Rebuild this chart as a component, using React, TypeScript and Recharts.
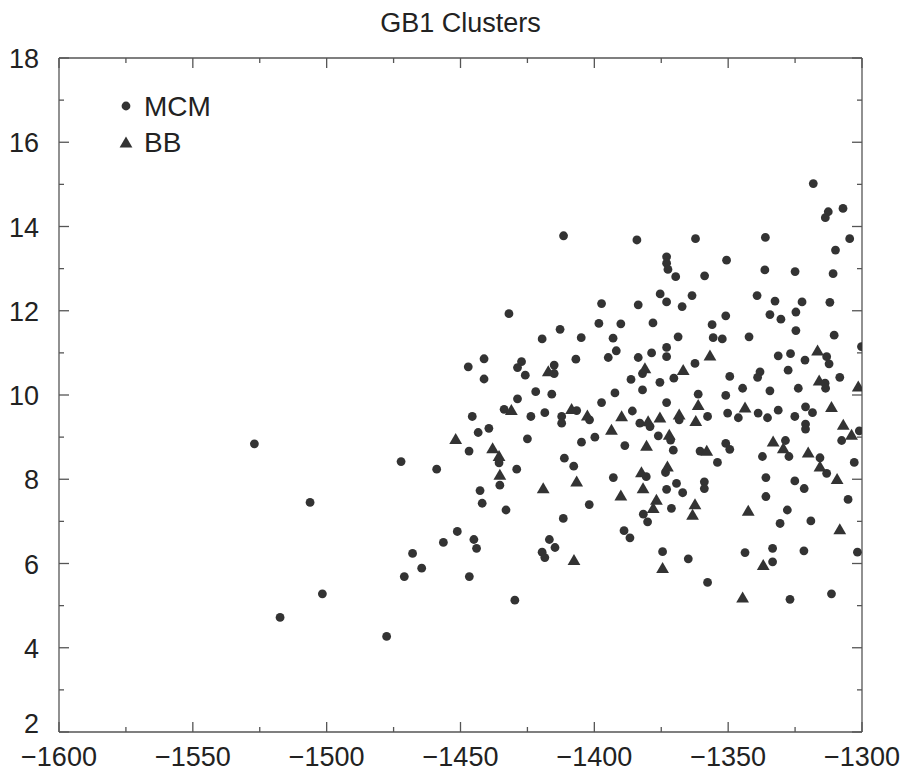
import React from 'react';
import { ScatterChart, Scatter, XAxis, YAxis, Legend } from 'recharts';

const chartTitle = 'GB1 Clusters';
const seriesNames = ['MCM', 'BB'];

// MCM cluster points: [x, y]
const mcmPoints: [number, number][] = [
  [-1411.5, 13.78], [-1384.1, 13.68], [-1373, 13.28], [-1373, 13.13], [-1372.5, 12.98],
  [-1375.4, 12.4], [-1373, 12.21], [-1397.3, 12.17], [-1383.6, 12.14], [-1431.9, 11.93],
  [-1398.3, 11.7], [-1390.1, 11.69], [-1378.1, 11.71], [-1412.8, 11.56], [-1419.5, 11.33],
  [-1404.9, 11.36], [-1393.0, 11.35],
  [-1318.2, 15.02], [-1312.6, 14.35], [-1313.7, 14.21], [-1307.1, 14.43], [-1304.6, 13.71],
  [-1309.9, 13.44], [-1362.2, 13.71], [-1336.1, 13.74], [-1350.6, 13.2], [-1369.6, 12.81],
  [-1358.8, 12.83], [-1336.3, 12.97], [-1325.0, 12.93], [-1310.8, 12.88], [-1363.5, 12.36],
  [-1367.2, 12.1], [-1339.2, 12.36], [-1332.5, 12.23], [-1322.4, 12.21], [-1312.0, 12.2],
  [-1350.9, 11.88], [-1334.4, 11.91], [-1330.3, 11.8], [-1324.7, 11.97], [-1356.0, 11.67],
  [-1324.7, 11.53], [-1368.7, 11.38], [-1355.6, 11.36], [-1352.2, 11.33], [-1342.2, 11.38],
  [-1310.4, 11.42],
  [-1391.8, 11.05], [-1394.8, 10.89], [-1447.1, 10.67], [-1441.2, 10.86], [-1441.2, 10.38],
  [-1427.2, 10.79], [-1428.7, 10.65], [-1425.8, 10.47], [-1415.0, 10.71], [-1415.0, 10.51],
  [-1406.9, 10.85], [-1383.6, 10.89], [-1378.6, 11.0], [-1373.0, 11.13], [-1373.0, 10.91],
  [-1382.0, 10.51], [-1386.3, 10.37], [-1375.5, 10.3], [-1421.9, 10.08], [-1415.9, 10.02],
  [-1392.3, 10.05], [-1382.0, 10.12], [-1428.7, 9.91], [-1397.3, 9.82], [-1373.0, 9.82],
  [-1433.7, 9.66], [-1445.6, 9.49], [-1423.7, 9.49], [-1418.5, 9.58], [-1406.6, 9.63],
  [-1412.2, 9.49], [-1412.2, 9.33], [-1401.8, 9.41], [-1385.8, 9.62], [-1383.0, 9.33],
  [-1379.2, 9.25], [-1376.1, 9.03], [-1443.4, 9.11], [-1439.4, 9.21], [-1446.8, 8.67],
  [-1425.0, 8.96], [-1399.8, 9.0], [-1404.8, 8.88], [-1388.6, 8.8], [-1435.6, 8.39],
  [-1458.9, 8.24], [-1429.0, 8.24], [-1411.2, 8.5], [-1407.7, 8.31], [-1435.3, 7.86],
  [-1392.9, 8.04], [-1380.6, 8.06], [-1373.4, 8.16], [-1442.7, 7.73], [-1441.9, 7.43],
  [-1433.0, 7.27], [-1401.9, 7.4], [-1373.0, 7.76], [-1381.7, 7.17], [-1411.6, 7.07],
  [-1300.2, 11.15], [-1362.4, 10.75], [-1370.3, 10.4], [-1331.3, 10.93], [-1326.7, 10.98],
  [-1321.3, 10.83], [-1313.2, 10.91], [-1312.3, 10.74], [-1327.6, 10.59], [-1338.1, 10.55],
  [-1339.0, 10.42], [-1349.4, 10.44], [-1313.8, 10.28], [-1313.6, 10.16], [-1308.3, 10.42],
  [-1344.6, 10.16], [-1334.4, 10.1], [-1323.8, 10.16], [-1350.9, 9.99], [-1361.2, 10.02],
  [-1321.1, 9.72], [-1318.5, 9.58], [-1331.3, 9.64], [-1368.3, 9.41], [-1357.7, 9.49],
  [-1350.2, 9.57], [-1346.2, 9.46], [-1338.8, 9.57], [-1335.3, 9.46], [-1325.1, 9.49],
  [-1321.1, 9.31], [-1321.1, 9.19], [-1301.0, 9.15], [-1307.6, 8.92], [-1371.5, 8.93],
  [-1370.5, 8.69], [-1360.5, 8.67], [-1350.9, 8.85], [-1349.4, 8.71], [-1354.0, 8.4],
  [-1328.6, 8.92], [-1327.3, 8.54], [-1337.2, 8.54], [-1315.7, 8.51], [-1313.2, 8.14],
  [-1302.9, 8.4], [-1335.9, 8.04], [-1325.1, 7.96], [-1321.6, 7.78], [-1335.9, 7.59],
  [-1305.2, 7.52], [-1369.3, 7.9], [-1367.0, 7.68], [-1358.9, 7.94], [-1358.9, 7.78],
  [-1371.2, 7.31], [-1327.9, 7.27],
  [-1330.6, 6.95], [-1319.1, 7.01], [-1374.5, 6.28], [-1364.9, 6.11], [-1343.7, 6.26],
  [-1333.4, 6.36], [-1333.4, 6.04], [-1321.7, 6.3], [-1301.7, 6.27], [-1357.7, 5.55],
  [-1326.9, 5.15], [-1311.4, 5.28],
  [-1380.1, 6.99], [-1451.2, 6.76], [-1456.4, 6.5], [-1445.0, 6.57], [-1444.0, 6.36],
  [-1464.5, 5.89], [-1446.7, 5.69], [-1429.7, 5.13], [-1416.8, 6.57], [-1414.7, 6.38],
  [-1419.5, 6.27], [-1418.5, 6.14], [-1388.9, 6.78], [-1386.7, 6.61],
  [-1527.0, 8.84], [-1472.2, 8.42], [-1506.2, 7.45], [-1467.9, 6.24], [-1471.0, 5.69],
  [-1501.6, 5.28], [-1517.4, 4.72], [-1477.6, 4.27],
];

// BB cluster points: [x, y]
const bbPoints: [number, number][] = [
  [-1417.2, 10.56], [-1431.0, 9.64], [-1408.5, 9.66], [-1402.6, 9.51], [-1389.8, 9.49],
  [-1393.6, 9.17], [-1375.5, 9.46], [-1379.9, 9.37], [-1380.5, 8.79], [-1451.8, 8.95],
  [-1438.0, 8.73], [-1435.6, 8.55], [-1435.3, 8.1], [-1406.6, 7.94], [-1382.4, 8.16],
  [-1372.7, 8.3], [-1381.8, 7.78], [-1419.1, 7.78], [-1390.1, 7.61], [-1376.8, 7.51],
  [-1378.0, 7.31], [-1381.1, 10.63], [-1407.6, 6.08], [-1356.8, 10.93], [-1366.8, 10.59],
  [-1316.6, 11.05], [-1316.0, 10.34], [-1301.4, 10.2], [-1361.2, 9.76], [-1343.7, 9.7],
  [-1311.4, 9.71], [-1368.3, 9.53], [-1362.1, 9.38], [-1307.0, 9.29], [-1303.9, 9.05],
  [-1372.0, 9.05], [-1358.0, 8.67], [-1333.2, 8.89], [-1329.4, 8.73], [-1320.1, 8.63],
  [-1315.7, 8.3], [-1309.3, 8.0], [-1362.4, 7.4], [-1363.3, 7.15], [-1342.5, 7.25],
  [-1308.3, 6.81], [-1336.9, 5.96], [-1374.5, 5.89], [-1344.6, 5.19],
];

const xMajorTicks = [-1600, -1550, -1500, -1450, -1400, -1350, -1300];
const xMinorTicks = [-1575, -1525, -1475, -1425, -1375, -1325];
const yMajorTicks = [2, 4, 6, 8, 10, 12, 14, 16, 18];
const yMinorTicks = [3, 5, 7, 9, 11, 13, 15, 17];
const xDomain = [-1600, -1300];
const yDomain = [2, 18];

const mcmData = mcmPoints.map(([x, y]) => ({ x, y }));
const bbData = bbPoints.map(([x, y]) => ({ x, y }));
const xAllTicks = [...xMajorTicks, ...xMinorTicks].sort((a, b) => a - b);
const yAllTicks = [...yMajorTicks, ...yMinorTicks].sort((a, b) => a - b);

const FONT = '"Liberation Sans", Arial, Helvetica, sans-serif';
const TEXT = '#222';
const AXIS = '#555';
const MARK = '#333';
const TICK_FS = 27;
const MAJOR_LEN = 10;
const MINOR_LEN = 5;

const fmt = (v: number) => (v < 0 ? '\u2212' + Math.abs(v) : String(v));

const XBottomTick = (props: any) => {
  const { x, y, payload } = props;
  const major = xMajorTicks.includes(payload.value);
  return (
    <g>
      <line x1={x} x2={x} y1={y} y2={y - (major ? MAJOR_LEN : MINOR_LEN)} stroke={AXIS} strokeWidth={1.3} />
      {major && (
        <text x={x} y={y + 34} textAnchor="middle" fontFamily={FONT} fontSize={TICK_FS} fill={TEXT}>
          {fmt(payload.value)}
        </text>
      )}
    </g>
  );
};

const XTopTick = (props: any) => {
  const { x, y, payload } = props;
  const major = xMajorTicks.includes(payload.value);
  return <line x1={x} x2={x} y1={y} y2={y + (major ? MAJOR_LEN : MINOR_LEN)} stroke={AXIS} strokeWidth={1.3} />;
};

const YLeftTick = (props: any) => {
  const { x, y, payload } = props;
  const major = yMajorTicks.includes(payload.value);
  // lowest label sits slightly raised so it clears the x-axis labels (as in the reference)
  const lift = payload.value === yDomain[0] ? -9 : 0;
  return (
    <g>
      <line x1={x} x2={x + (major ? MAJOR_LEN : MINOR_LEN)} y1={y} y2={y} stroke={AXIS} strokeWidth={1.3} />
      {major && (
        <text x={x - 20} y={y + 10 + lift} textAnchor="end" fontFamily={FONT} fontSize={TICK_FS} fill={TEXT}>
          {fmt(payload.value)}
        </text>
      )}
    </g>
  );
};

const YRightTick = (props: any) => {
  const { x, y, payload } = props;
  const major = yMajorTicks.includes(payload.value);
  return <line x1={x} x2={x - (major ? MAJOR_LEN : MINOR_LEN)} y1={y} y2={y} stroke={AXIS} strokeWidth={1.3} />;
};

const CircleShape = (props: any) => {
  const { cx, cy } = props;
  return <circle cx={cx} cy={cy} r={4.4} fill={MARK} />;
};

const TriangleShape = (props: any) => {
  const { cx, cy } = props;
  return <polygon points={`${cx},${cy - 6.2} ${cx + 6.4},${cy + 4.8} ${cx - 6.4},${cy + 4.8}`} fill={MARK} />;
};

const NoShape = () => <g />;

const LegendContent = () => (
  <svg width={120} height={72} style={{ display: 'block' }}>
    <circle cx={16} cy={16} r={4.4} fill={MARK} />
    <text x={34} y={26} fontFamily={FONT} fontSize={28} fill={TEXT}>{seriesNames[0]}</text>
    <polygon points={`16,${52.7 - 6.2} ${16 + 6.4},${52.7 + 4.8} ${16 - 6.4},${52.7 + 4.8}`} fill={MARK} />
    <text x={34} y={62} fontFamily={FONT} fontSize={28} fill={TEXT}>{seriesNames[1]}</text>
  </svg>
);

export default function App() {
  return (
    <div style={{ position: 'absolute', left: 0, top: 0, width: 905, height: 771, background: '#fff' }}>
      <div
        style={{
          position: 'absolute',
          left: 59,
          width: 803,
          top: 10,
          textAlign: 'center',
          fontFamily: FONT,
          fontSize: 27,
          lineHeight: '27px',
          color: TEXT,
          zIndex: 2,
        }}
      >
        {chartTitle}
      </div>
      <ScatterChart width={905} height={771} margin={{ top: 57, right: 42, bottom: 38, left: 58 }}>
        <XAxis
          xAxisId={0}
          type="number"
          dataKey="x"
          domain={xDomain}
          ticks={xAllTicks}
          interval={0}
          height={1}
          tickSize={0}
          tickMargin={0}
          tickLine={false}
          axisLine={{ stroke: AXIS, strokeWidth: 1.3 }}
          tick={<XBottomTick />}
          allowDataOverflow
        />
        <XAxis
          xAxisId="top"
          orientation="top"
          type="number"
          dataKey="x"
          domain={xDomain}
          ticks={xAllTicks}
          interval={0}
          height={1}
          tickSize={0}
          tickMargin={0}
          tickLine={false}
          axisLine={{ stroke: AXIS, strokeWidth: 1.3 }}
          tick={<XTopTick />}
          allowDataOverflow
        />
        <YAxis
          yAxisId={0}
          type="number"
          dataKey="y"
          domain={yDomain}
          ticks={yAllTicks}
          interval={0}
          width={1}
          tickSize={0}
          tickMargin={0}
          tickLine={false}
          axisLine={{ stroke: AXIS, strokeWidth: 1.3 }}
          tick={<YLeftTick />}
          allowDataOverflow
        />
        <YAxis
          yAxisId="right"
          orientation="right"
          type="number"
          dataKey="y"
          domain={yDomain}
          ticks={yAllTicks}
          interval={0}
          width={1}
          tickSize={0}
          tickMargin={0}
          tickLine={false}
          axisLine={{ stroke: AXIS, strokeWidth: 1.3 }}
          tick={<YRightTick />}
          allowDataOverflow
        />
        <Legend
          layout="vertical"
          align="center"
          verticalAlign="middle"
          wrapperStyle={{ left: 110, top: 90, width: 120, height: 72 }}
          content={<LegendContent />}
        />
        <Scatter name={seriesNames[0]} data={mcmData} xAxisId={0} yAxisId={0} shape={<CircleShape />} isAnimationActive={false} />
        <Scatter name={seriesNames[1]} data={bbData} xAxisId={0} yAxisId={0} shape={<TriangleShape />} isAnimationActive={false} />
        <Scatter name="frame" data={mcmData} xAxisId="top" yAxisId="right" shape={<NoShape />} legendType="none" isAnimationActive={false} />
      </ScatterChart>
    </div>
  );
}
